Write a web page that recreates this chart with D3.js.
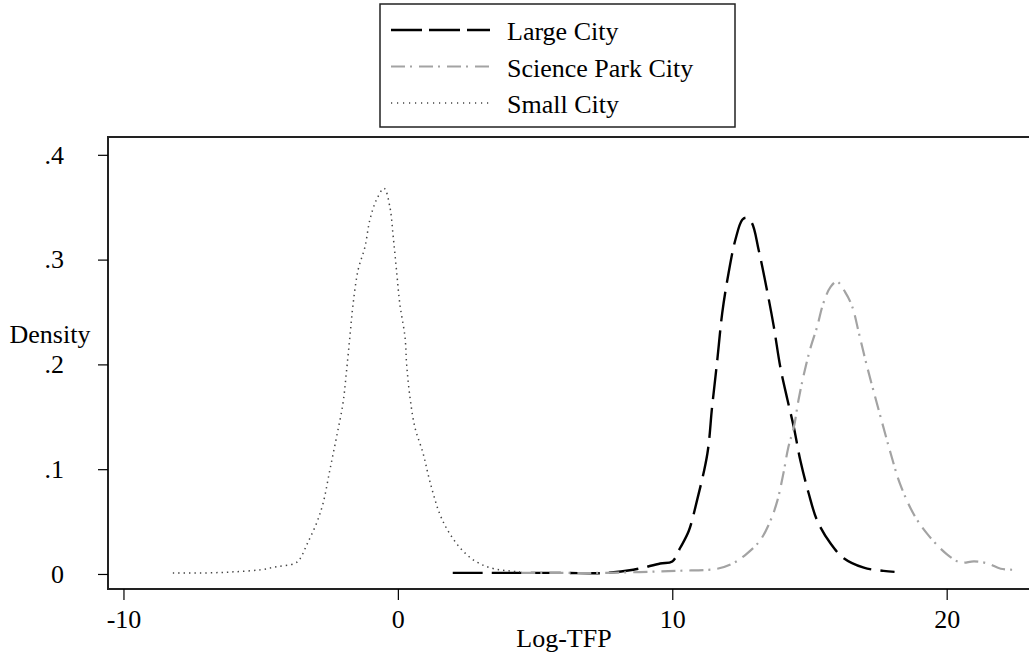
<!DOCTYPE html>
<html>
<head>
<meta charset="utf-8">
<script src="https://cdn.jsdelivr.net/npm/d3@7"></script>
<style>
  body { margin: 0; background: #fff; }
  svg text { font-family: "Liberation Serif", "Times New Roman", serif; fill: #000; }
</style>
</head>
<body>
<svg id="chart" width="1029" height="666"></svg>
<script>
// kernel density estimates
const largeX = [2.0, 4, 6, 7.6, 8.58, 9.56, 10.0, 10.29, 10.6, 10.9, 11.28, 11.45, 11.64, 11.82, 12.05, 12.3, 12.55, 12.7, 12.9, 13.15, 13.45, 13.7, 13.94, 14.2, 14.43, 14.67, 14.97, 15.28, 15.77, 16.25, 16.98, 17.7, 18.1];
const largeY = [0.001, 0.001, 0.001, 0.001, 0.004, 0.010, 0.012, 0.025, 0.041, 0.070, 0.115, 0.159, 0.204, 0.249, 0.287, 0.319, 0.338, 0.340, 0.335, 0.309, 0.271, 0.236, 0.197, 0.166, 0.140, 0.108, 0.077, 0.051, 0.029, 0.015, 0.006, 0.003, 0.002];

const scienceX = [4.5, 6, 7.37, 10.2, 11.64, 12.2, 12.7, 13.2, 13.58, 13.83, 14.05, 14.23, 14.43, 14.6, 14.8, 15.04, 15.28, 15.5, 15.77, 16.0, 16.3, 16.56, 16.8, 17.04, 17.3, 17.6, 17.96, 18.3, 18.8, 19.3, 20.0, 20.5, 21.0, 21.5, 21.97, 22.45];
const scienceY = [0.001, 0.001, 0.001, 0.003, 0.005, 0.010, 0.019, 0.032, 0.051, 0.070, 0.096, 0.121, 0.140, 0.166, 0.191, 0.216, 0.236, 0.258, 0.274, 0.279, 0.269, 0.255, 0.230, 0.204, 0.178, 0.149, 0.115, 0.086, 0.057, 0.038, 0.019, 0.011, 0.012, 0.010, 0.005, 0.004];

const smallX = [-8.2, -7, -6, -5, -4.4, -3.76, -3.58, -3.3, -2.97, -2.73, -2.48, -2.24, -2.0, -1.87, -1.75, -1.63, -1.45, -1.2, -1.02, -0.78, -0.5, -0.29, -0.17, -0.05, 0.07, 0.26, 0.32, 0.44, 0.62, 0.92, 1.16, 1.53, 1.9, 2.37, 2.9, 3.5, 4.45];
const smallY = [0.001, 0.001, 0.002, 0.004, 0.007, 0.010, 0.014, 0.029, 0.048, 0.067, 0.099, 0.130, 0.163, 0.194, 0.226, 0.258, 0.290, 0.312, 0.338, 0.357, 0.368, 0.350, 0.322, 0.290, 0.258, 0.226, 0.200, 0.169, 0.140, 0.115, 0.089, 0.057, 0.038, 0.022, 0.011, 0.005, 0.002];

const xTicks = [-10, 0, 10, 20];
const yTicks = [0, 0.1, 0.2, 0.3, 0.4];
const yTickLabels = ["0", ".1", ".2", ".3", ".4"];
const seriesNames = ["Large City", "Science Park City", "Small City"];

let svg = d3.select("#chart");
let plotLeft = 108, plotRight = 1029, plotTop = 137, plotBottom = 589;

let x = d3.scaleLinear().domain([-10.6, 23.0]).range([107, 1029]);
let y = d3.scaleLinear().domain([-0.0153, 0.417]).range([590, 137]);

// styles per series
let styles = [
  { color: "#000", width: 2.4, dash: "30,9", legendDash: "31,7" },
  { color: "#a3a3a3", width: 2.2, dash: "14,5,2,7", legendDash: "14,5,2,7" },
  { color: "#444", width: 1.5, dash: "1.4,4", legendDash: "1.2,4.8" }
];
let series = [
  d3.zip(largeX, largeY),
  d3.zip(scienceX, scienceY),
  d3.zip(smallX, smallY)
];

// plot frame (top, left, bottom)
svg.append("path")
  .attr("d", `M${plotRight},${plotTop}H${plotLeft}V${plotBottom}H${plotRight}`)
  .attr("fill", "none")
  .attr("stroke", "#222")
  .attr("stroke-width", 2);

// axes
let yAxis = d3.axisLeft(y).tickValues(yTicks).tickSize(10).tickPadding(34)
  .tickFormat((d, i) => yTickLabels[i]);
let gy = svg.append("g").attr("transform", `translate(${plotLeft},0)`).call(yAxis);
gy.select(".domain").remove();
gy.selectAll("line").attr("stroke", "#000").attr("stroke-width", 1.2);
gy.selectAll("text").style("font-size", "26px").attr("font-family", null);

let xAxis = d3.axisBottom(x).tickValues(xTicks).tickSize(11).tickPadding(10)
  .tickFormat(d3.format("d"));
let gx = svg.append("g").attr("transform", `translate(0,${plotBottom})`).call(xAxis);
gx.select(".domain").remove();
gx.selectAll("line").attr("stroke", "#000").attr("stroke-width", 1.2);
gx.selectAll("text").style("font-size", "26px").attr("font-family", null)
  .text(d => d < 0 ? "-" + Math.abs(d) : d);

svg.append("text").attr("x", 50).attr("y", 343)
  .attr("text-anchor", "middle").style("font-size", "26px").text("Density");
svg.append("text").attr("x", 564).attr("y", 647)
  .attr("text-anchor", "middle").style("font-size", "26px").text("Log-TFP");

// density curves
let line = d3.line()
  .x(d => x(d[0]))
  .y(d => y(d[1]))
  .curve(d3.curveCatmullRom);

svg.selectAll(".curve")
  .data(series)
  .enter().append("path")
  .attr("class", "curve")
  .attr("d", line)
  .attr("fill", "none")
  .attr("stroke", (d, i) => styles[i].color)
  .attr("stroke-width", (d, i) => styles[i].width)
  .attr("stroke-dasharray", (d, i) => styles[i].dash);

// legend
let legend = svg.append("g");
legend.append("rect")
  .attr("x", 380).attr("y", 4).attr("width", 355).attr("height", 123)
  .attr("fill", "#fff").attr("stroke", "#222").attr("stroke-width", 1.5);

let rows = legend.selectAll(".row")
  .data(seriesNames)
  .enter().append("g")
  .attr("transform", (d, i) => `translate(0,${30 + i * 36.5})`);
rows.append("line")
  .attr("x1", 391).attr("x2", 490)
  .attr("stroke", (d, i) => styles[i].color)
  .attr("stroke-width", (d, i) => styles[i].width)
  .attr("stroke-dasharray", (d, i) => styles[i].legendDash);
rows.append("text")
  .attr("x", 507).attr("y", 10)
  .style("font-size", "26px")
  .text(d => d);
</script>
</body>
</html>
